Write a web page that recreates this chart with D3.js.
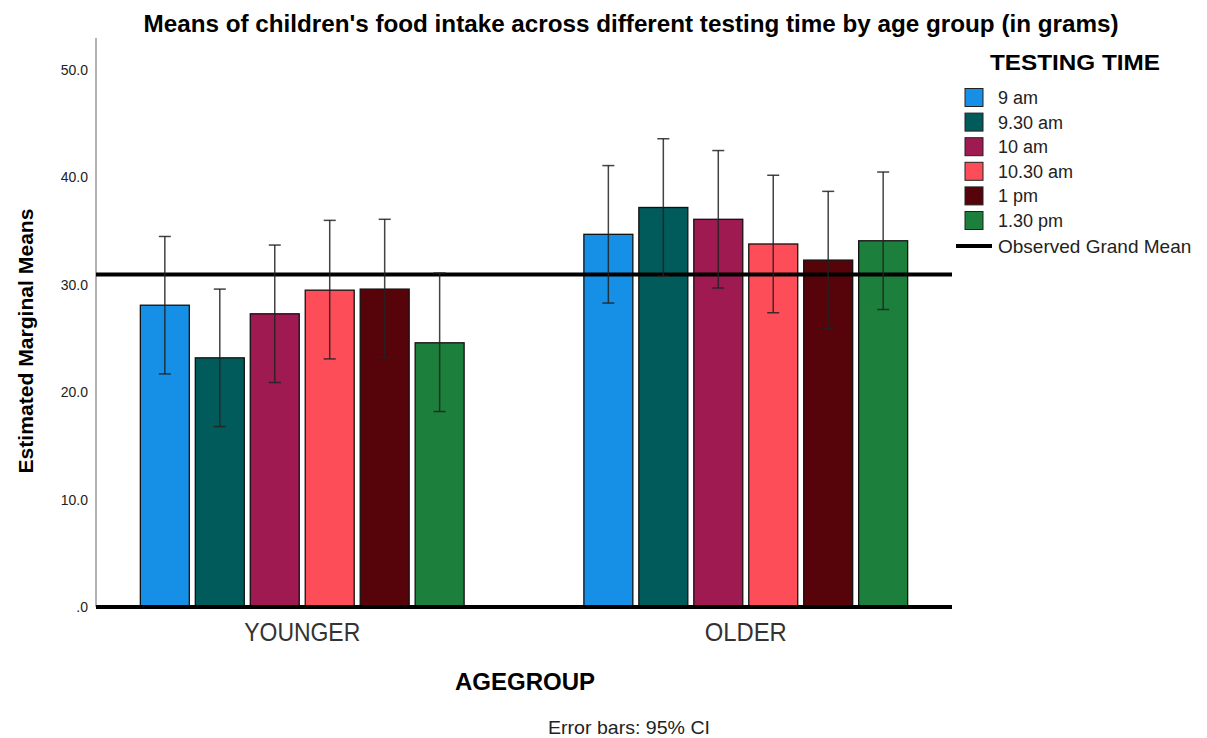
<!DOCTYPE html>
<html><head><meta charset="utf-8">
<script src="https://cdn.jsdelivr.net/npm/d3@7"></script>
<style>
body{margin:0;background:#fff;}
text{font-family:"Liberation Sans",Arial,sans-serif;}
</style></head><body>
<svg id="c" width="1207" height="738"></svg>
<script>
const groups = ["YOUNGER","OLDER"];
const times = ["9 am","9.30 am","10 am","10.30 am","1 pm","1.30 pm"];
const colors = ["#1590e6","#005b5a","#9e1a50","#fd4d58","#560409","#1c7f3b"];
const meanYounger = [28.1,23.2,27.3,29.5,29.6,24.6];
const meanOlder   = [34.7,37.2,36.1,33.8,32.3,34.1];
const lowYounger  = [21.7,16.8,20.9,23.1,23.2,18.2];
const highYounger = [34.5,29.6,33.7,36.0,36.1,31.1];
const lowOlder    = [28.3,30.8,29.7,27.4,25.9,27.7];
const highOlder   = [41.1,43.6,42.5,40.2,38.7,40.5];
const grandMean = 30.95;
const yTicks = [0,10,20,30,40,50];
const yTickLabels = [".0","10.0","20.0","30.0","40.0","50.0"];

const data = [];
groups.forEach((g,gi)=>{
  const m = gi===0?meanYounger:meanOlder, lo = gi===0?lowYounger:lowOlder, hi = gi===0?highYounger:highOlder;
  times.forEach((t,ti)=>data.push({g,t,ti,v:m[ti],lo:lo[ti],hi:hi[ti]}));
});

const svg = d3.select("#c");
const L=96, R=952, T=38, B=607;
const y = d3.scaleLinear().domain([0,50]).range([B, B-537]);
const x0 = d3.scaleBand().domain(groups).range([L,R]).paddingInner(0.27).paddingOuter(0.1);
const x1 = d3.scaleBand().domain(times).range([0,x0.bandwidth()]).paddingInner(0.109);

function condensed(sel,len){ return sel.attr("textLength",len).attr("lengthAdjust","spacingAndGlyphs"); }

// title
condensed(svg.append("text").attr("x",631).attr("y",32).attr("text-anchor","middle")
  .attr("font-size",23.5).attr("font-weight","bold").attr("fill","#000")
  .text("Means of children's food intake across different testing time by age group (in grams)"),975);

// y axis line
svg.append("line").attr("x1",L).attr("x2",L).attr("y1",T).attr("y2",B).attr("stroke","#999").attr("stroke-width",1.5);
const yAxis = d3.axisLeft(y).tickValues(yTicks).tickFormat((d,i)=>yTickLabels[i]).tickSize(0).tickPadding(8);
const ya = svg.append("g").attr("transform",`translate(${L},0)`).call(yAxis);
ya.select(".domain").remove();
ya.selectAll("text").attr("font-size",14).attr("fill","#222");

condensed(svg.append("text").attr("transform",`translate(33,341) rotate(-90)`).attr("text-anchor","middle")
  .attr("font-size",21).attr("font-weight","bold").attr("fill","#000").text("Estimated Marginal Means"),265);

// bars
const bars = svg.append("g");
bars.selectAll("rect").data(data).join("rect")
  .attr("x",d=>x0(d.g)+x1(d.t)).attr("width",x1.bandwidth())
  .attr("y",d=>y(d.v)).attr("height",d=>y(0)-y(d.v))
  .attr("fill",d=>colors[d.ti]).attr("stroke","#111").attr("stroke-width",1.3);

// baseline
svg.append("line").attr("x1",L).attr("x2",R).attr("y1",y(0)).attr("y2",y(0)).attr("stroke","#000").attr("stroke-width",4);
// grand mean
svg.append("line").attr("x1",L).attr("x2",R).attr("y1",y(grandMean)).attr("y2",y(grandMean)).attr("stroke","#000").attr("stroke-width",4);

// error bars
const eb = svg.append("g").attr("stroke","#222").attr("stroke-width",1.5).attr("stroke-opacity",0.85);
data.forEach(d=>{
  const cx = x0(d.g)+x1(d.t)+x1.bandwidth()/2;
  eb.append("line").attr("x1",cx).attr("x2",cx).attr("y1",y(d.hi)).attr("y2",y(d.lo));
  eb.append("line").attr("x1",cx-6).attr("x2",cx+6).attr("y1",y(d.hi)).attr("y2",y(d.hi));
  eb.append("line").attr("x1",cx-6).attr("x2",cx+6).attr("y1",y(d.lo)).attr("y2",y(d.lo));
});

// x axis labels
const xAxis = d3.axisBottom(x0).tickSize(0).tickPadding(16);
const xa = svg.append("g").attr("transform",`translate(0,${B})`).call(xAxis);
xa.select(".domain").remove();
const xLens = {YOUNGER:116, OLDER:82};
xa.selectAll("text").attr("font-size",25).attr("fill","#333").attr("dy",null).attr("y",34)
  .attr("textLength",d=>xLens[d]).attr("lengthAdjust","spacingAndGlyphs");

condensed(svg.append("text").attr("x",525).attr("y",690).attr("text-anchor","middle")
  .attr("font-size",24).attr("font-weight","bold").attr("fill","#000").text("AGEGROUP"),140);
condensed(svg.append("text").attr("x",629).attr("y",734).attr("text-anchor","middle")
  .attr("font-size",19).attr("fill","#222").text("Error bars: 95% CI"),162);

// legend
const lg = svg.append("g");
condensed(lg.append("text").attr("x",990).attr("y",70)
  .attr("font-size",22).attr("font-weight","bold").attr("fill","#000").text("TESTING TIME"),170);
times.forEach((t,i)=>{
  const cy = 97.5 + i*24.6;
  lg.append("rect").attr("x",965).attr("y",cy-9).attr("width",18).attr("height",18)
    .attr("fill",colors[i]).attr("stroke","#222").attr("stroke-width",1);
  lg.append("text").attr("x",998).attr("y",cy+6.5)
    .attr("font-size",18).attr("fill","#222").text(t);
});
lg.append("line").attr("x1",956).attr("x2",992).attr("y1",246).attr("y2",246).attr("stroke","#000").attr("stroke-width",4);
lg.append("text").attr("x",998).attr("y",253)
  .attr("font-size",19).attr("fill","#222").text("Observed Grand Mean");
</script></body></html>
